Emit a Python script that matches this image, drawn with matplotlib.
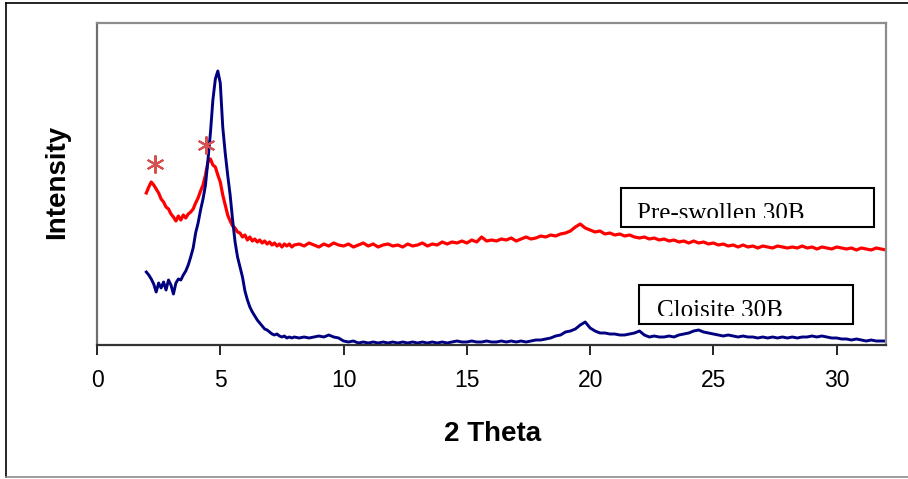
import matplotlib
matplotlib.use('Agg')
import matplotlib.pyplot as plt
from matplotlib.patches import Rectangle
from matplotlib.lines import Line2D
from matplotlib.transforms import Bbox, TransformedBbox

# 2-theta scan positions (shared by both patterns)
two_theta = [
    2.0, 2.1, 2.2, 2.3, 2.4, 2.5, 2.6, 2.7, 2.8, 2.9,
    3.0, 3.1, 3.2, 3.3, 3.4, 3.5, 3.6, 3.7, 3.8, 3.9,
    4.0, 4.1, 4.2, 4.3, 4.4, 4.5, 4.6, 4.7, 4.8, 4.9,
    5.0, 5.1, 5.2, 5.3, 5.4, 5.5, 5.6, 5.7, 5.8, 5.9,
    6.0, 6.1, 6.2, 6.3, 6.4, 6.5, 6.6, 6.7, 6.8, 6.9,
    7.0, 7.1, 7.2, 7.3, 7.4, 7.5, 7.6, 7.7, 7.8, 7.9,
    8.0,
    8.2, 8.4, 8.6, 8.8, 9.0, 9.2, 9.4, 9.6, 9.8, 10.0,
    10.2, 10.4, 10.6, 10.8, 11.0, 11.2, 11.4, 11.6, 11.8, 12.0,
    12.2, 12.4, 12.6, 12.8, 13.0, 13.2, 13.4, 13.6, 13.8, 14.0,
    14.2, 14.4, 14.6, 14.8, 15.0, 15.2, 15.4, 15.6, 15.8, 16.0,
    16.2, 16.4, 16.6, 16.8, 17.0, 17.2, 17.4, 17.6, 17.8, 18.0,
    18.2, 18.4, 18.6, 18.8, 19.0, 19.2, 19.4, 19.6, 19.8, 20.0,
    20.2, 20.4, 20.6, 20.8, 21.0, 21.2, 21.4, 21.6, 21.8, 22.0,
    22.2, 22.4, 22.6, 22.8, 23.0, 23.2, 23.4, 23.6, 23.8, 24.0,
    24.2, 24.4, 24.6, 24.8, 25.0, 25.2, 25.4, 25.6, 25.8, 26.0,
    26.2, 26.4, 26.6, 26.8, 27.0, 27.2, 27.4, 27.6, 27.8, 28.0,
    28.2, 28.4, 28.6, 28.8, 29.0, 29.2, 29.4, 29.6, 29.8, 30.0,
    30.2, 30.4, 30.6, 30.8, 31.0, 31.2, 31.4, 31.6, 31.8, 32.0,
]

# Pre-swollen 30B (red), arbitrary intensity units
pre_swollen = [
    152, 158, 163, 160, 156, 152, 146, 143, 138, 136,
    131, 128, 124, 129, 125, 130, 127, 131, 133, 136,
    142, 147, 154, 160, 170, 183, 186, 180, 178, 170,
    163, 150, 140, 130, 124, 119, 117, 113, 112, 108,
    110, 105, 108, 104, 106, 103, 105, 102, 104, 101,
    103, 100, 102, 99, 101, 98, 101, 99, 101, 98,
    100,
    101, 99, 102, 100, 98, 101, 99, 102, 100, 99,
    101, 98, 100, 102, 99, 101, 98, 100, 101, 99,
    100, 98, 101, 99, 100, 102, 99, 101, 100, 103,
    101, 103, 102, 104, 102, 105, 103, 108, 104, 105,
    104, 106, 105, 107, 104, 106, 108, 106, 107, 109,
    108, 110, 109, 111, 112, 114, 118, 121, 117, 115,
    113, 114, 111, 112, 110, 111, 109, 110, 108, 107,
    108, 106, 107, 105, 106, 104, 105, 103, 104, 102,
    104, 102, 103, 101, 102, 100, 101, 99, 100, 98,
    100, 98, 99, 97, 99, 98, 97, 99, 98, 97,
    98, 97, 99, 97, 98, 96, 98, 97, 96, 98,
    97, 96, 97, 95, 97, 96, 95, 97, 96, 95,
]

# Cloisite 30B (blue)
cloisite = [
    73, 70, 66, 61, 53, 62, 57, 63, 55, 65,
    60, 51, 62, 66, 65, 70, 74, 80, 88, 97,
    112, 122, 135, 146, 160, 185, 212, 245, 266, 274,
    262, 218, 192, 170, 150, 125, 103, 88, 78, 68,
    54, 45, 38, 33, 29, 25, 22, 19, 16, 15,
    13, 11, 10, 11, 9, 8, 9, 7, 8, 7,
    8,
    7, 8, 7, 8, 9, 8, 10, 8, 7, 4,
    3, 4, 2, 3, 2, 3, 2, 3, 2, 3,
    2, 3, 2, 3, 2, 3, 2, 3, 2, 3,
    2, 3, 4, 3, 3, 4, 3, 3, 4, 3,
    3, 4, 3, 4, 3, 4, 3, 4, 5, 5,
    6, 7, 9, 10, 13, 14, 16, 20, 23, 17,
    14, 12, 12, 11, 11, 10, 10, 11, 12, 14,
    10, 8, 9, 8, 8, 9, 8, 10, 11, 12,
    14, 15, 13, 12, 11, 10, 9, 10, 9, 8,
    9, 8, 8, 7, 8, 7, 8, 7, 8, 7,
    8, 7, 8, 8, 9, 8, 9, 8, 7, 7,
    6, 6, 5, 6, 5, 4, 5, 4, 4, 4,
]

# asterisks marking the basal reflections
star_x = [2.35, 4.44]
star_y = [181, 200]

x_ticks = [0, 5, 10, 15, 20, 25, 30]

W, H = 908, 479
fig = plt.figure(figsize=(W / 100, H / 100), dpi=100)

def fx(px):
    return px / W

def fy(py):
    return 1 - py / H

ax = fig.add_axes([fx(97), fy(345), (886 - 97) / W, (345 - 22.7) / H])

ax.plot(two_theta, pre_swollen, color='#ff0000', lw=2.3)
ax.plot(two_theta, cloisite, color='#000080', lw=2.1)
ax.plot(star_x, star_y, linestyle='none', marker=(6, 2, 0), markersize=13,
        markeredgewidth=1.5, color='#d65050')

ax.set_xlim(0, 32)
ax.set_ylim(0, 322.3)
ax.set_yticks([])
ax.set_xticks(x_ticks)
ax.set_xticklabels([str(t) for t in x_ticks], fontfamily='Liberation Sans', fontsize=16.5)
ax.tick_params(axis='x', direction='out', length=7, width=1.2, color='black', pad=10)

for side in ['top', 'right']:
    ax.spines[side].set_color('#8c8c8c')
    ax.spines[side].set_linewidth(1.6)
ax.spines['left'].set_color('#6e6e6e')
ax.spines['left'].set_linewidth(1.6)
ax.spines['bottom'].set_color('#333333')
ax.spines['bottom'].set_linewidth(1.6)

# axis titles
fig.text(fx(493), fy(440.7), '2 Theta', ha='center', va='baseline',
         fontfamily='Liberation Sans', fontweight='bold', fontsize=20)
fig.text(fx(64.5), fy(181.7), 'Intensity', ha='center', va='baseline', rotation=90,
         rotation_mode='anchor', fontfamily='Liberation Sans', fontweight='bold', fontsize=20)

# label boxes (text is cut off at the bottom, as in the original)
boxes = [
    ('Pre-swollen 30B', (620.7, 188.3, 874, 227.3), 637.3, 220.5, 217.7),
    ('Cloisite 30B', (639, 285, 853.3, 324.3), 656.7, 317.2, 316),
]
for label, (x0, y0, x1, y1), tx, ty, clip_y in boxes:
    rect = Rectangle((fx(x0), fy(y1)), (x1 - x0) / W, (y1 - y0) / H,
                     transform=fig.transFigure, facecolor='white',
                     edgecolor='black', lw=1.5, zorder=5)
    fig.add_artist(rect)
    t = fig.text(fx(tx), fy(ty), label, ha='left', va='baseline',
                 fontfamily='Liberation Serif', fontsize=18, zorder=6)
    clip = TransformedBbox(Bbox.from_extents(fx(x0), fy(clip_y), fx(x1), fy(y0)),
                           fig.transFigure)
    t.set_clip_box(clip)
    t.set_clip_on(True)

# outer frame
fig.add_artist(Line2D([fx(5.5), 1], [fy(3), fy(3)], color='black', lw=1.2,
                      transform=fig.transFigure))
fig.add_artist(Line2D([fx(5.5), fx(5.5)], [fy(3), fy(477)], color='black', lw=1.2,
                      transform=fig.transFigure))
fig.add_artist(Line2D([fx(5.5), 1], [fy(477), fy(477)], color='#8c8c8c', lw=1.2,
                      transform=fig.transFigure))

fig.savefig('out.png', dpi=100)
